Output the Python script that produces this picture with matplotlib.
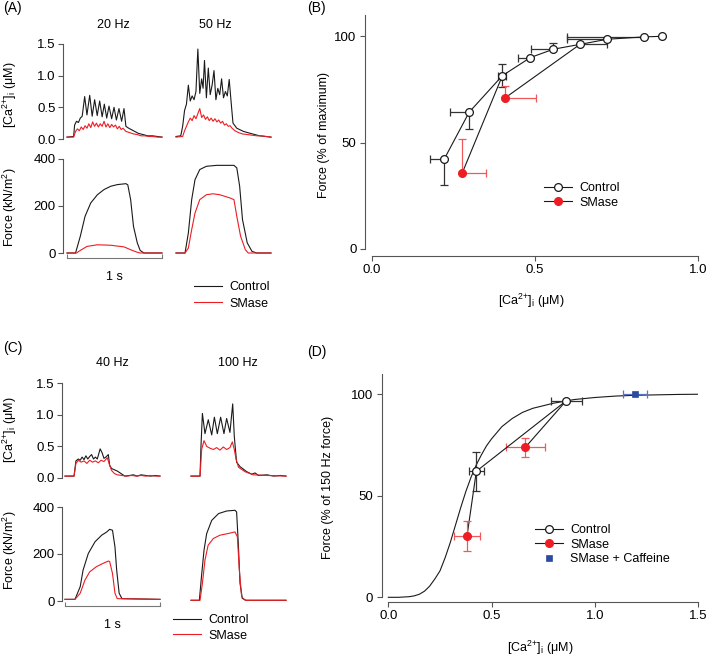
import numpy as np
import matplotlib
matplotlib.use('Agg')
import matplotlib.pyplot as plt
from matplotlib.lines import Line2D

plt.rcParams['font.family'] = ['Liberation Sans', 'DejaVu Sans']
plt.rcParams['font.size'] = 9
plt.rcParams['xtick.labelsize'] = 9.5
plt.rcParams['ytick.labelsize'] = 9.5
plt.rcParams['mathtext.fontset'] = 'custom'
plt.rcParams['mathtext.rm'] = 'Liberation Sans'
plt.rcParams['axes.linewidth'] = 0.8

BLACK = '#1a1a1a'
RED = '#ee1d23'
RED_ERR = '#f0585c'
BLUE = '#2c4aa0'
AXC = '#555555'

CA_LABEL = '[Ca$^{\\mathregular{2}{\\mathregular{+}}}$]$_{\\mathregular{i}}$ (\u03bcM)'
FORCE_LABEL = 'Force (kN/m$^{\\mathregular{2}}$)'

# ---------------- panel A traces (time in s, trace window 1 s) ----------------
a20_ca_ctrl_t = [0, 0.07, 0.08, 0.10, 0.12, 0.14, 0.16, 0.186, 0.21, 0.239, 0.265, 0.291, 0.318, 0.344, 0.37,
                 0.393, 0.418, 0.442, 0.47, 0.495, 0.52, 0.547, 0.575, 0.60, 0.62, 0.65, 0.70, 0.75, 0.80,
                 0.85, 0.90, 0.95, 1.0]
a20_ca_ctrl = [0.03, 0.04, 0.22, 0.28, 0.26, 0.33, 0.36, 0.67, 0.38, 0.69, 0.36, 0.62, 0.37, 0.60, 0.35,
               0.55, 0.33, 0.52, 0.32, 0.50, 0.30, 0.48, 0.28, 0.48, 0.20, 0.17, 0.13, 0.09, 0.07,
               0.05, 0.05, 0.04, 0.03]
a20_ca_smase_t = [0, 0.07, 0.09, 0.11, 0.13, 0.15, 0.17, 0.19, 0.21, 0.23, 0.25, 0.27, 0.29, 0.31, 0.33,
                  0.35, 0.37, 0.39, 0.41, 0.43, 0.45, 0.47, 0.49, 0.51, 0.53, 0.55, 0.57, 0.59, 0.62,
                  0.66, 0.70, 0.74, 0.78, 0.82, 0.86, 0.90, 0.95, 1.0]
a20_ca_smase = [0.03, 0.03, 0.12, 0.16, 0.13, 0.19, 0.15, 0.21, 0.17, 0.24, 0.18, 0.27, 0.20, 0.25, 0.19,
                0.24, 0.20, 0.28, 0.19, 0.24, 0.18, 0.23, 0.19, 0.22, 0.16, 0.20, 0.15, 0.17, 0.12,
                0.10, 0.08, 0.07, 0.05, 0.05, 0.04, 0.04, 0.03, 0.03]
a50_ca_ctrl_t = [0, 0.05, 0.07, 0.09, 0.11, 0.13, 0.15, 0.17, 0.19, 0.21, 0.23, 0.25, 0.27, 0.285, 0.30,
                 0.32, 0.34, 0.36, 0.38, 0.40, 0.42, 0.44, 0.46, 0.48, 0.50, 0.52, 0.54, 0.56, 0.585,
                 0.60, 0.64, 0.71, 0.78, 0.88, 1.0]
a50_ca_ctrl = [0.04, 0.05, 0.20, 0.45, 0.55, 0.85, 0.60, 0.68, 0.62, 0.75, 1.42, 0.72, 0.95, 0.80, 1.24,
               0.65, 1.12, 0.70, 0.85, 1.08, 0.62, 0.80, 0.70, 0.95, 0.65, 0.75, 0.68, 0.94, 0.50,
               0.25, 0.17, 0.12, 0.09, 0.05, 0.03]
a50_ca_smase_t = [0, 0.07, 0.09, 0.11, 0.13, 0.15, 0.17, 0.19, 0.21, 0.23, 0.25, 0.27, 0.29, 0.31, 0.33,
                  0.35, 0.37, 0.39, 0.41, 0.43, 0.45, 0.47, 0.49, 0.51, 0.53, 0.55, 0.57, 0.59, 0.62,
                  0.66, 0.70, 0.75, 0.80, 0.85, 0.90, 0.95, 1.0]
a50_ca_smase = [0.03, 0.04, 0.13, 0.20, 0.27, 0.33, 0.29, 0.37, 0.32, 0.40, 0.48, 0.34, 0.38, 0.31, 0.35,
                0.29, 0.33, 0.28, 0.32, 0.27, 0.30, 0.25, 0.28, 0.22, 0.24, 0.20, 0.21, 0.17, 0.13,
                0.10, 0.08, 0.07, 0.06, 0.05, 0.05, 0.04, 0.03]

a20_f_ctrl_t = [0, 0.09, 0.14, 0.19, 0.25, 0.32, 0.39, 0.46, 0.53, 0.62, 0.64, 0.67, 0.70, 0.74, 0.77, 0.81, 1.0]
a20_f_ctrl = [0, 0, 71, 156, 213, 248, 270, 284, 291, 295, 290, 227, 113, 43, 11, 0, 0]
a20_f_smase_t = [0, 0.10, 0.14, 0.21, 0.32, 0.46, 0.60, 0.67, 0.74, 0.77, 1.0]
a20_f_smase = [0, 0, 11, 28, 35, 33, 26, 14, 3, 0, 0]
a50_f_ctrl_t = [0, 0.095, 0.13, 0.165, 0.20, 0.25, 0.32, 0.43, 0.61, 0.64, 0.67, 0.70, 0.75, 0.80, 0.85, 1.0]
a50_f_ctrl = [0, 0, 85, 227, 312, 355, 369, 373, 373, 362, 284, 142, 43, 7, 0, 0]
a50_f_smase_t = [0, 0.095, 0.13, 0.165, 0.20, 0.25, 0.32, 0.39, 0.46, 0.57, 0.61, 0.64, 0.68, 0.73, 0.76, 1.0]
a50_f_smase = [0, 0, 21, 99, 170, 227, 248, 252, 248, 234, 227, 156, 71, 14, 0, 0]

# ---------------- panel C traces ----------------
c40_ca_ctrl_t = [0, 0.095, 0.115, 0.14, 0.16, 0.18, 0.20, 0.22, 0.24, 0.26, 0.28, 0.30, 0.32, 0.34, 0.37,
                 0.39, 0.41, 0.43, 0.456, 0.47, 0.49, 0.52, 0.55, 0.58, 0.61, 0.63, 0.68, 0.72, 0.76,
                 0.80, 0.85, 0.90, 0.95, 1.0]
c40_ca_ctrl = [0.03, 0.03, 0.27, 0.30, 0.28, 0.33, 0.29, 0.35, 0.30, 0.34, 0.37, 0.30, 0.33, 0.30, 0.46,
               0.40, 0.31, 0.33, 0.37, 0.20, 0.15, 0.13, 0.11, 0.08, 0.05, 0.03, 0.04, 0.05, 0.03,
               0.05, 0.04, 0.03, 0.04, 0.03]
c40_ca_smase_t = [0, 0.095, 0.115, 0.14, 0.17, 0.20, 0.23, 0.26, 0.29, 0.32, 0.35, 0.38, 0.41, 0.445,
                  0.47, 0.49, 0.52, 0.55, 0.60, 0.65, 0.70, 0.75, 0.80, 0.85, 0.90, 0.95, 1.0]
c40_ca_smase = [0.03, 0.03, 0.23, 0.28, 0.25, 0.27, 0.23, 0.28, 0.25, 0.27, 0.24, 0.28, 0.26, 0.32,
                0.20, 0.12, 0.07, 0.05, 0.04, 0.03, 0.04, 0.03, 0.04, 0.03, 0.04, 0.03, 0.03]
c100_ca_ctrl_t = [0, 0.095, 0.105, 0.12, 0.147, 0.182, 0.218, 0.246, 0.277, 0.312, 0.347, 0.375, 0.41,
                  0.439, 0.456, 0.48, 0.516, 0.586, 0.64, 0.674, 0.71, 0.80, 0.87, 0.94, 1.0]
c100_ca_ctrl = [0.03, 0.03, 0.50, 1.02, 0.70, 0.92, 0.68, 0.96, 0.70, 0.96, 0.70, 0.94, 0.72,
                1.17, 0.65, 0.25, 0.18, 0.10, 0.06, 0.08, 0.04, 0.05, 0.03, 0.04, 0.03]
c100_ca_smase_t = [0, 0.095, 0.112, 0.137, 0.165, 0.20, 0.235, 0.27, 0.305, 0.34, 0.375, 0.41, 0.435,
                   0.456, 0.474, 0.50, 0.568, 0.656, 0.80, 1.0]
c100_ca_smase = [0.03, 0.03, 0.45, 0.59, 0.50, 0.47, 0.45, 0.48, 0.44, 0.49, 0.45, 0.48, 0.57,
                 0.45, 0.30, 0.17, 0.10, 0.05, 0.04, 0.03]

c40_f_ctrl_t = [0, 0.105, 0.16, 0.19, 0.245, 0.316, 0.386, 0.44, 0.47, 0.50, 0.526, 0.544, 0.57, 0.60, 1.0]
c40_f_ctrl = [7, 7, 61, 131, 202, 252, 280, 294, 305, 301, 230, 131, 33, 10, 7]
c40_f_smase_t = [0, 0.105, 0.16, 0.21, 0.26, 0.33, 0.40, 0.456, 0.47, 0.50, 0.526, 0.55, 1.0]
c40_f_smase = [7, 7, 33, 89, 124, 146, 160, 170, 168, 117, 33, 10, 7]
c100_f_ctrl_t = [0, 0.088, 0.11, 0.137, 0.165, 0.218, 0.29, 0.375, 0.463, 0.48, 0.498, 0.516, 0.54, 0.58, 1.0]
c100_f_ctrl = [3, 3, 103, 216, 287, 343, 372, 383, 386, 379, 245, 75, 11, 3, 3]
c100_f_smase_t = [0, 0.095, 0.12, 0.147, 0.18, 0.235, 0.305, 0.39, 0.463, 0.488, 0.509, 0.533, 0.57, 1.0]
c100_f_smase = [3, 3, 75, 174, 237, 266, 280, 287, 294, 273, 131, 18, 3, 3]

# ---------------- panel B ----------------
b_ctrl_ca = [0.221, 0.298, 0.400, 0.486, 0.556, 0.638, 0.722, 0.834, 0.891]
b_ctrl_force = [42.1, 64.3, 81.5, 90.0, 93.9, 96.2, 98.6, 99.7, 100.0]
b_ctrl_xerr_lo = [0.043, 0.058, 0.012, 0.038, 0.067, 0.0, 0.124, 0.235, 0.0]
b_ctrl_xerr_hi = [0.0, 0.0, 0.012, 0.0, 0.0, 0.083, 0.0, 0.0, 0.0]
b_ctrl_yerr_lo = [12.2, 7.8, 5.5, 0.0, 0.0, 0.0, 0.0, 0.0, 0.0]
b_ctrl_yerr_hi = [0.0, 0.0, 5.5, 0.0, 3.0, 0.0, 0.0, 0.0, 0.0]
b_smase_ca = [0.277, 0.408]
b_smase_force = [35.8, 71.0]
b_smase_xerr = [0.073, 0.094]
b_smase_yerr = [15.8, 5.6]
b_smase_link = [2, 5]   # control point each SMase point is joined to

# ---------------- panel D ----------------
d_ctrl_ca = [0.426, 0.861]
d_ctrl_force = [62.0, 96.7]
d_ctrl_xerr = [0.037, 0.074]
d_ctrl_yerr = [9.6, 0.0]
d_smase_ca = [0.381, 0.663]
d_smase_force = [30.3, 73.8]
d_smase_xerr = [0.063, 0.094]
d_smase_yerr = [7.4, 4.8]
d_caff_ca = [1.192]
d_caff_force = [100.0]
d_caff_xerr = [0.058]
d_fit_ca = [0, 0.05, 0.1, 0.125, 0.15, 0.175, 0.2, 0.225, 0.25, 0.275, 0.3, 0.325, 0.35, 0.375, 0.4,
            0.425, 0.45, 0.475, 0.5, 0.55, 0.6, 0.65, 0.7, 0.8, 0.9, 1.0, 1.1, 1.2, 1.3, 1.4, 1.5]
d_fit_force = [0, 0, 0.3, 0.7, 1.5, 3, 5.5, 9, 13, 19.5, 27, 35.5, 44, 52, 59,
               65, 70, 74.5, 78, 84, 88, 91, 93, 95.5, 97.3, 98.3, 99, 99.4, 99.6, 99.8, 99.9]

W, H = 709, 662
fig = plt.figure(figsize=(W / 100, H / 100), dpi=100)
PT = 0.72  # points per pixel


def box(x0, y0, x1, y1):
    return fig.add_axes([x0 / W, 1 - y1 / H, (x1 - x0) / W, (y1 - y0) / H])


def ftext(x, y, s, **kw):
    fig.text(x / W, 1 - y / H, s, **kw)


def trace_axes(x_left, x_right, y0, y1, ylim, yticks, ylabels, spine_px, bar_px=None):
    axl = box(x_left[0], y0, x_left[1], y1)
    axr = box(x_right[0], y0, x_right[1], y1)
    for ax in (axl, axr):
        ax.set_xlim(0, 1)
        ax.set_ylim(*ylim)
        ax.patch.set_visible(False)
        for s in ax.spines.values():
            s.set_visible(False)
        ax.set_xticks([])
        ax.set_yticks([])
    axl.spines['left'].set_visible(True)
    axl.spines['left'].set_position(('outward', spine_px * PT))
    axl.spines['left'].set_color(AXC)
    axl.set_yticks(yticks)
    axl.set_yticklabels(ylabels)
    axl.tick_params(axis='y', length=5 * PT, width=0.8, color=AXC, pad=1.5)
    if bar_px is not None:
        axl.spines['bottom'].set_visible(True)
        axl.spines['bottom'].set_position(('outward', bar_px * PT))
        axl.spines['bottom'].set_bounds(0, 1)
        axl.spines['bottom'].set_color('#777777')
        axl.set_xticks([0, 1])
        axl.set_xticklabels(['', ''])
        axl.tick_params(axis='x', direction='in', length=4 * PT, width=0.8, color='#777777')
        axl.set_xlabel('1 s', labelpad=6)
    return axl, axr


def draw(ax, t, v, c):
    return ax.plot(t, v, color=c, lw=0.8, clip_on=False, solid_joinstyle='round')[0]


ca_ticks = [0, 0.5, 1.0, 1.5]
ca_ticklabels = ['0.0', '0.5', '1.0', '1.5']
f_ticks = [0, 200, 400]
f_ticklabels = ['0', '200', '400']
leg_kw = dict(frameon=False, borderpad=0, borderaxespad=0, handletextpad=0.6, fontsize=9)

# ---- (A) ----
ax1, ax2 = trace_axes((67, 162), (176, 271), 44, 139, (0, 1.5), ca_ticks, ca_ticklabels, 4)
draw(ax1, a20_ca_ctrl_t, a20_ca_ctrl, BLACK)
draw(ax1, a20_ca_smase_t, a20_ca_smase, RED)
draw(ax2, a50_ca_ctrl_t, a50_ca_ctrl, BLACK)
draw(ax2, a50_ca_smase_t, a50_ca_smase, RED)
ax3, ax4 = trace_axes((67, 162), (176, 271), 159, 253, (0, 400), f_ticks, f_ticklabels, 4, bar_px=5)
hc = draw(ax3, a20_f_ctrl_t, a20_f_ctrl, BLACK)
hs = draw(ax3, a20_f_smase_t, a20_f_smase, RED)
draw(ax4, a50_f_ctrl_t, a50_f_ctrl, BLACK)
draw(ax4, a50_f_smase_t, a50_f_smase, RED)
ftext(3, 8, '(A)', fontsize=10, va='center')
ftext(113, 25, '20 Hz', ha='center', va='center')
ftext(215, 25, '50 Hz', ha='center', va='center')
ftext(10, 95, CA_LABEL, rotation=90, ha='center', va='center')
ftext(10, 207, FORCE_LABEL, rotation=90, ha='center', va='center')
fig.legend([hc, hs], ['Control', 'SMase'], loc='upper left', bbox_to_anchor=(194 / W, 1 - 281 / H),
           handlelength=2.2, labelspacing=0.36, **leg_kw)

# ---- (C) ----
ax5, ax6 = trace_axes((65, 160), (191, 286), 383, 478, (0, 1.5), ca_ticks, ca_ticklabels, 3.5)
draw(ax5, c40_ca_ctrl_t, c40_ca_ctrl, BLACK)
draw(ax5, c40_ca_smase_t, c40_ca_smase, RED)
draw(ax6, c100_ca_ctrl_t, c100_ca_ctrl, BLACK)
draw(ax6, c100_ca_smase_t, c100_ca_smase, RED)
ax7, ax8 = trace_axes((65, 160), (191, 286), 507, 601, (0, 400), f_ticks, f_ticklabels, 3.5, bar_px=5)
hc2 = draw(ax7, c40_f_ctrl_t, c40_f_ctrl, BLACK)
hs2 = draw(ax7, c40_f_smase_t, c40_f_smase, RED)
draw(ax8, c100_f_ctrl_t, c100_f_ctrl, BLACK)
draw(ax8, c100_f_smase_t, c100_f_smase, RED)
ftext(3, 348, '(C)', fontsize=10, va='center')
ftext(112, 363, '40 Hz', ha='center', va='center')
ftext(238, 363, '100 Hz', ha='center', va='center')
ftext(10, 430, CA_LABEL, rotation=90, ha='center', va='center')
ftext(10, 550, FORCE_LABEL, rotation=90, ha='center', va='center')
fig.legend([hc2, hs2], ['Control', 'SMase'], loc='upper left', bbox_to_anchor=(173 / W, 1 - 614 / H),
           handlelength=2.2, labelspacing=0.3, **leg_kw)


def scatter_axes(x0, y0, x1, y1, xlim, ylim, xb, xticks, xlabels, yticks, xpad):
    ax = box(x0, y0, x1, y1)
    ax.set_xlim(*xlim)
    ax.set_ylim(*ylim)
    ax.patch.set_visible(False)
    ax.spines['top'].set_visible(False)
    ax.spines['right'].set_visible(False)
    ax.spines['left'].set_bounds(0, 110)
    ax.spines['bottom'].set_bounds(*xb)
    for s in ('left', 'bottom'):
        ax.spines[s].set_color(AXC)
    ax.set_xticks(xticks)
    ax.set_xticklabels(xlabels)
    ax.set_yticks(yticks)
    ax.tick_params(length=5 * PT, width=0.8, color=AXC, pad=2.5)
    ax.set_xlabel(CA_LABEL, labelpad=xpad)
    return ax


mk = dict(markersize=5.6, markeredgewidth=0.9)
eb = dict(fmt='none', elinewidth=0.9, capsize=3.2, capthick=0.9, zorder=2)

# ---- (B) ----
axb = scatter_axes(365, 15, 698, 256, (-0.0215, 1.0), (-3.3, 110), (0, 1),
                   [0, 0.5, 1.0], ['0.0', '0.5', '1.0'], [0, 50, 100], 11)
axb.set_ylabel('Force (% of maximum)', labelpad=3)
for i, j in enumerate(b_smase_link):
    axb.plot([b_smase_ca[i], b_ctrl_ca[j]], [b_smase_force[i], b_ctrl_force[j]], color=BLACK, lw=0.8, zorder=2)
axb.errorbar(b_ctrl_ca, b_ctrl_force, xerr=[b_ctrl_xerr_lo, b_ctrl_xerr_hi],
             yerr=[b_ctrl_yerr_lo, b_ctrl_yerr_hi], ecolor='#333333', **eb)
axb.errorbar(b_smase_ca, b_smase_force, xerr=[[0, 0], b_smase_xerr], yerr=[[0, 0], b_smase_yerr],
             ecolor=RED_ERR, **eb)
lb1, = axb.plot(b_ctrl_ca, b_ctrl_force, '-o', color=BLACK, lw=0.8, mfc='white', mec=BLACK, zorder=3, **mk)
axb.plot(b_smase_ca, b_smase_force, 'o', color=RED, mec=RED, zorder=3, **mk)
lb2_leg = Line2D([], [], color=BLACK, lw=0.8, marker='o', mfc=RED, mec=RED, **mk)
axb.legend([lb1, lb2_leg], ['Control', 'SMase'], loc='upper left', bbox_to_anchor=(544 / W, 1 - 182 / H),
           bbox_transform=fig.transFigure, handlelength=2.2, labelspacing=0.2, numpoints=1, **leg_kw)
ftext(307, 8, '(B)', fontsize=10, va='center')

# ---- (D) ----
axd = scatter_axes(381.7, 373.3, 698.3, 601.7, (-0.032, 1.5), (-2.16, 110.2), (0, 1.5),
                   [0, 0.5, 1.0, 1.5], ['0.0', '0.5', '1.0', '1.5'], [0, 50, 100], 12)
axd.set_ylabel('Force (% of 150 Hz force)', labelpad=12)
axd.plot(d_fit_ca, d_fit_force, color=BLACK, lw=0.8, zorder=2)
for i in range(len(d_smase_ca)):
    axd.plot([d_smase_ca[i], d_ctrl_ca[i]], [d_smase_force[i], d_ctrl_force[i]], color=BLACK, lw=0.8, zorder=2)
axd.errorbar(d_ctrl_ca, d_ctrl_force, xerr=d_ctrl_xerr, yerr=d_ctrl_yerr, ecolor='#333333', **eb)
axd.errorbar(d_smase_ca, d_smase_force, xerr=d_smase_xerr, yerr=d_smase_yerr, ecolor=RED_ERR, **eb)
axd.errorbar(d_caff_ca, d_caff_force, xerr=d_caff_xerr, ecolor='#5a74c0', **eb)
ld1, = axd.plot(d_ctrl_ca, d_ctrl_force, '-o', color=BLACK, lw=0.8, mfc='white', mec=BLACK, zorder=3, **mk)
axd.plot(d_smase_ca, d_smase_force, 'o', color=RED, mec=RED, zorder=3, **mk)
ld3, = axd.plot(d_caff_ca, d_caff_force, 's', color=BLUE, mec=BLUE, zorder=3, markersize=5, markeredgewidth=0.5)
ld2_leg = Line2D([], [], color=BLACK, lw=0.8, marker='o', mfc=RED, mec=RED, **mk)
axd.legend([ld1, ld2_leg, ld3], ['Control', 'SMase', 'SMase + Caffeine'], loc='upper left',
           bbox_to_anchor=(535 / W, 1 - 524 / H), bbox_transform=fig.transFigure,
           handlelength=2.2, labelspacing=0.2, numpoints=1, **leg_kw)
ftext(307, 352, '(D)', fontsize=10, va='center')

fig.savefig('out.png', dpi=100)
